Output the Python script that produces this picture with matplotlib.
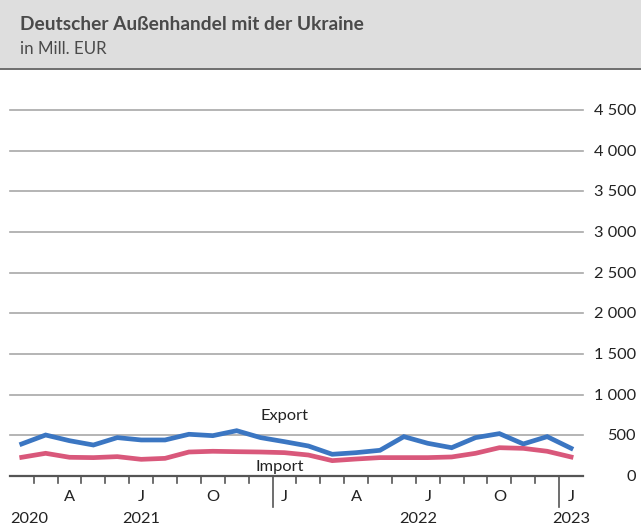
import matplotlib
matplotlib.use("Agg")
import matplotlib.pyplot as plt
from matplotlib.patches import Rectangle
from matplotlib.lines import Line2D

# Data: monthly values Feb 2021 - Jan 2023, Mill. EUR
months = ["F", "M", "A", "M", "J", "J", "A", "S", "O", "N", "D",
          "J", "F", "M", "A", "M", "J", "J", "A", "S", "O", "N", "D", "J"]
export = [394, 504, 434, 381, 472, 443, 443, 513, 496, 557, 472,
          422, 369, 267, 287, 316, 484, 402, 348, 472, 521, 394, 484, 341]
imports = [230, 279, 230, 226, 238, 205, 217, 295, 304, 299, 295,
           287, 258, 189, 209, 226, 226, 226, 234, 279, 348, 340, 304, 234]
yticks = [0, 500, 1000, 1500, 2000, 2500, 3000, 3500, 4000, 4500]
ytick_labels = ["0", "500", "1 000", "1 500", "2 000", "2 500", "3 000",
                "3 500", "4 000", "4 500"]
month_labels = {2: "A", 5: "J", 8: "O", 11: "J", 14: "A", 17: "J", 20: "O", 23: "J"}
year_breaks = [10.5, 22.5]
year_labels = [("2020", 0.3), ("2021", 5.0), ("2022", 16.6), ("2023", 23.0)]

W, H = 641, 530
fig = plt.figure(figsize=(W / 100, H / 100), dpi=100)
plt.rcParams['font.family'] = ['Lato', 'DejaVu Sans']

def fx(px):
    return px / W

def fy(py):
    return 1 - py / H

# header box
fig.patches.append(Rectangle((0, fy(68)), 1, 1 - fy(68), transform=fig.transFigure,
                             facecolor="#dedede", edgecolor="none", zorder=0))
fig.lines.append(Line2D([0.0, 1.0], [fy(69), fy(69)], transform=fig.transFigure,
                        color="#555555", lw=1.2))
fig.text(fx(20), fy(30), "Deutscher Außenhandel mit der Ukraine", fontsize=13.8,
         fontweight="bold", color="#4a4a4a", va="baseline", ha="left")
fig.text(fx(20), fy(54), "in Mill. EUR", fontsize=12.2, color="#4a4a4a",
         va="baseline", ha="left")

x0, x1 = 9.8, 583
y0, y1 = 476, 110
ax = fig.add_axes([fx(x0), fy(y0), fx(x1) - fx(x0), fy(y1) - fy(y0)])
ax.set_xlim(-0.5, len(months) - 0.5)
ax.set_ylim(0, 4500)
for s in ax.spines.values():
    s.set_visible(False)
ax.set_facecolor("none")
ppu = 4500 / (y0 - y1)  # data units per pixel

for t in yticks[1:]:
    ax.axhline(t, color="#a8a8a8", lw=1.2, zorder=1, clip_on=False)
ax.axhline(0, color="#555555", lw=1.6, zorder=3, clip_on=False)

xs = list(range(len(months)))
ax.plot(xs, export, color="#3b76c2", lw=3.4, zorder=4, solid_joinstyle="miter")
ax.plot(xs, imports, color="#d9587b", lw=3.4, zorder=4, solid_joinstyle="miter")

ax.set_xticks([])
ax.set_yticks([])

# y tick labels on right
for t, lab in zip(yticks, ytick_labels):
    ax.annotate(lab, xy=(1, t), xycoords=("axes fraction", "data"),
                xytext=(53, -1), textcoords="offset pixels",
                ha="right", va="center", fontsize=11.8, color="#222222")

# month boundary ticks
for i in range(len(months) - 1):
    b = i + 0.5
    length = 31 if b in year_breaks else 7
    ax.add_line(Line2D([b, b], [0, -length * ppu], color="#555555",
                       lw=1.2, clip_on=False))

for i, lab in month_labels.items():
    ax.text(i, -21 * ppu, lab, ha="center", va="center",
            fontsize=11.8, color="#222222")
for lab, xpos in year_labels:
    ax.text(xpos, -43 * ppu, lab, ha="center", va="center",
            fontsize=11.8, color="#222222")

ax.text(11.0, 735, "Export", ha="center", va="center", fontsize=11.8, color="#222222")
ax.text(10.8, 110, "Import", ha="center", va="center", fontsize=11.8, color="#222222",
        zorder=5)

fig.savefig("out.png", dpi=100)
